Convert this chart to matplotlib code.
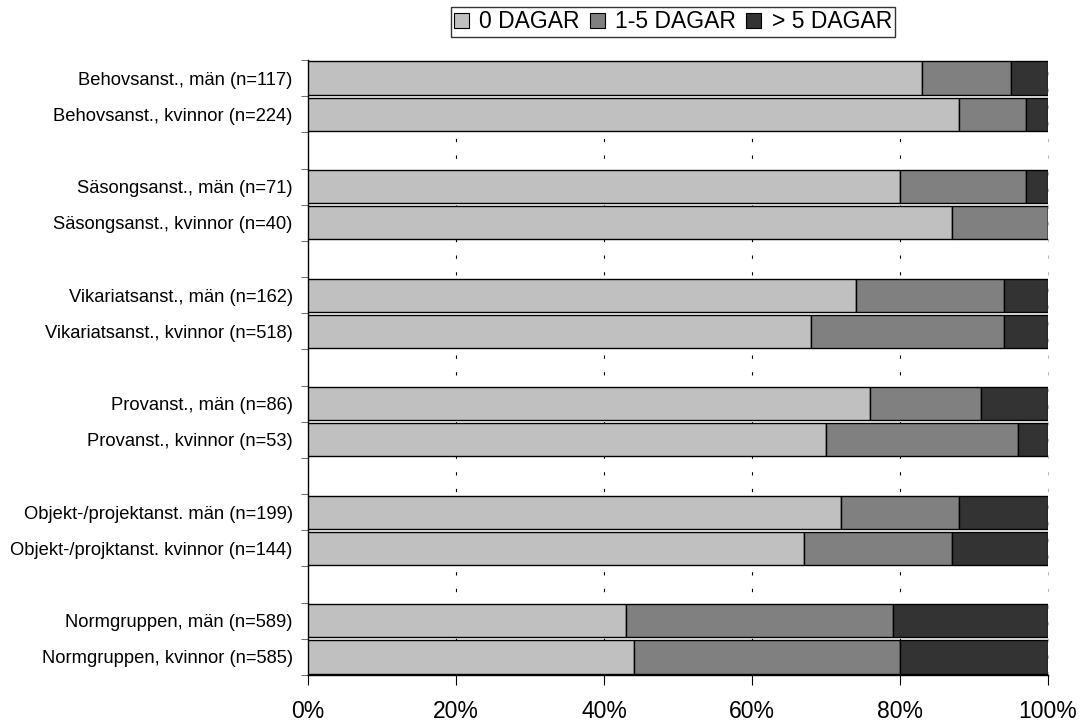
import matplotlib
matplotlib.use("Agg")
import matplotlib.pyplot as plt
import numpy as np

# Andel med sjukfrånvaro per anställningsform (procent)
labels = [
    "Behovsanst., män (n=117)", "Behovsanst., kvinnor (n=224)",
    "Säsongsanst., män (n=71)", "Säsongsanst., kvinnor (n=40)",
    "Vikariatsanst., män (n=162)", "Vikariatsanst., kvinnor (n=518)",
    "Provanst., män (n=86)", "Provanst., kvinnor (n=53)",
    "Objekt-/projektanst. män (n=199)", "Objekt-/projktanst. kvinnor (n=144)",
    "Normgruppen, män (n=589)", "Normgruppen, kvinnor (n=585)",
]
zero_days = [83, 88, 80, 87, 74, 68, 76, 70, 72, 67, 43, 44]
one_to_five = [12, 9, 17, 13, 20, 26, 15, 26, 16, 20, 36, 36]
over_five = [5, 3, 3, 0, 6, 6, 9, 4, 12, 13, 21, 20]
series_names = ["0 DAGAR", "1-5 DAGAR", "> 5 DAGAR"]
colors = ["#c0c0c0", "#808080", "#333333"]
xticks = [0, 20, 40, 60, 80, 100]

plt.rcParams['font.family'] = ['Liberation Sans', 'DejaVu Sans']

fig = plt.figure(figsize=(10.84, 7.22), dpi=100)
ax = fig.add_axes([308/1084, 1 - 675/722, (1048-308)/1084, (675-60)/722])

# two bars per group, then an empty slot
ypos = np.array([g * 3 + j for g in range(6) for j in range(2)])
left = np.zeros(len(labels))
for vals, name, col in zip([zero_days, one_to_five, over_five], series_names, colors):
    vals = np.array(vals, dtype=float)
    ax.barh(ypos, vals, left=left, height=0.92, color=col, edgecolor="black",
            linewidth=1.0, label=name, zorder=3)
    left += vals

ax.set_ylim(16.5, -0.5)
ax.set_xlim(0, 100)
ax.set_yticks(ypos)
ax.set_yticklabels(labels, fontsize=13.2)
ax.tick_params(axis='y', length=0, pad=11)
ax.set_yticks(np.arange(-0.5, 17, 1), minor=True)
ax.tick_params(axis='y', which='minor', length=5, color='#555555')

ax.set_xticks(xticks)
ax.set_xticklabels([f"{v}%" for v in xticks], fontsize=16.5)
ax.tick_params(axis='x', length=7, pad=11)

# dashed gridlines, the last one lighter
for v in xticks[1:]:
    ax.axvline(v, linestyle=(0, (3, 12)), linewidth=0.8,
               color='#bbbbbb' if v == 100 else 'black', zorder=0, clip_on=False)
for s in ['top', 'right']:
    ax.spines[s].set_visible(False)
ax.spines['left'].set_linewidth(1.0)
ax.spines['bottom'].set_linewidth(1.0)

leg = ax.legend(loc='upper center', bbox_to_anchor=(673/1084, 1 - 7/722),
                bbox_transform=fig.transFigure, ncol=3, fontsize=16.5,
                frameon=True, fancybox=False, edgecolor='black',
                handlelength=0.65, handleheight=0.65, handletextpad=0.45,
                columnspacing=0.45, borderpad=0.15, borderaxespad=0)
leg.get_frame().set_linewidth(1.0)
for h in leg.legend_handles:
    h.set_linewidth(0.8)

fig.savefig("out.png", dpi=100)
